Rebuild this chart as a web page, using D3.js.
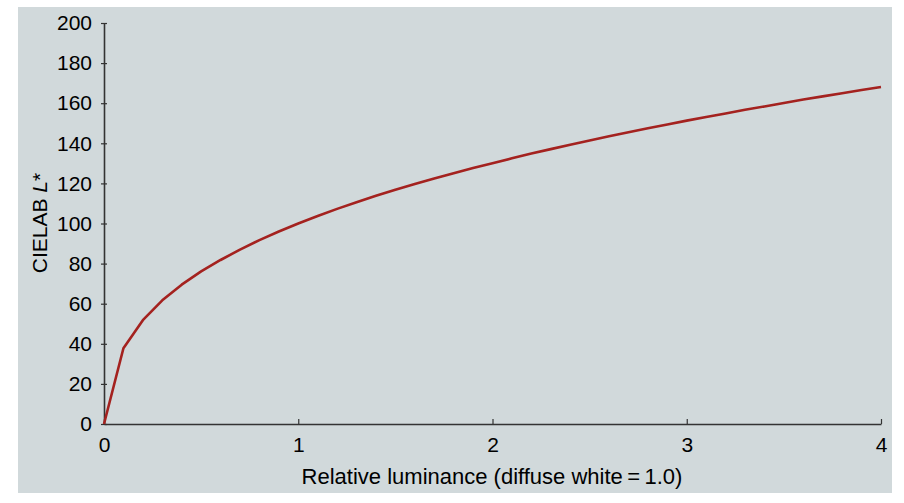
<!DOCTYPE html>
<html>
<head>
  <meta charset="UTF-8">
  <title>CIELAB L* vs relative luminance</title>
  <style>
    body { margin: 0; background: #ffffff; }
    svg { display: block; font-family: "Liberation Sans", Arial, sans-serif; }
  </style>
</head>
<body>
<svg></svg>
<script src="https://d3js.org/d3.v7.min.js"></script>
<script>

let width = 904, height = 503;

// values
let luminance = [0, 0.1, 0.2, 0.3, 0.4, 0.5, 0.6, 0.7, 0.8, 0.9,
                 1.0, 1.1, 1.2, 1.3, 1.4, 1.5, 1.6, 1.7, 1.8, 1.9,
                 2.0, 2.1, 2.2, 2.3, 2.4, 2.5, 2.6, 2.7, 2.8, 2.9,
                 3.0, 3.1, 3.2, 3.3, 3.4, 3.5, 3.6, 3.7, 3.8, 3.9, 4.0];
let lstar = [0, 37.8, 51.8, 61.7, 69.5, 76.1, 81.8, 87.0, 91.7, 96.0,
             100, 103.7, 107.3, 110.6, 113.8, 116.8, 119.7, 122.4, 125.1, 127.7,
             130.1, 132.5, 134.9, 137.1, 139.3, 141.4, 143.5, 145.5, 147.5, 149.4,
             151.3, 153.1, 154.9, 156.7, 158.4, 160.1, 161.8, 163.4, 165.0, 166.6, 168.1];
let xTicks = [0, 1, 2, 3, 4];
let yTicks = [0, 20, 40, 60, 80, 100, 120, 140, 160, 180, 200];

let svg = d3.select("svg")
    .attr("width", width)
    .attr("height", height);

// grey panel
svg.append("rect")
    .attr("x", 18).attr("y", 7)
    .attr("width", 874).attr("height", 486)
    .attr("fill", "#d1d9db");

var x = d3.scaleLinear().domain([0, 4]).range([104, 881]);
var y = d3.scaleLinear().domain([0, 200]).range([424, 23]);

// x axis, ticks pointing up
var xAxis = svg.append("g")
    .attr("transform", "translate(0," + y(0) + ")")
    .call(d3.axisBottom(x).tickValues(xTicks).tickFormat(d3.format("d"))
          .tickSize(-5).tickSizeOuter(0).tickPadding(13));

// y axis, ticks crossing
var yAxis = svg.append("g")
    .attr("transform", "translate(" + x(0) + ",0)")
    .call(d3.axisLeft(y).tickValues(yTicks).tickFormat(d3.format("d"))
          .tickSize(3).tickSizeOuter(0).tickPadding(9));

yAxis.selectAll(".tick line").attr("x2", 3).attr("x1", -3);

[xAxis, yAxis].forEach(g => {
  g.attr("font-size", null).attr("font-family", null);
  g.select(".domain").attr("stroke", "#333").attr("stroke-width", 1.6);
  g.selectAll(".tick line").attr("stroke", "#333").attr("stroke-width", 1.2);
  g.selectAll(".tick text").attr("fill", "#000").style("font-size", "21px");
});

// curve
var line = d3.line()
    .x((d, i) => x(luminance[i]))
    .y(d => y(d));

svg.append("path")
    .datum(lstar)
    .attr("d", line)
    .attr("fill", "none")
    .attr("stroke", "#a4221f")
    .attr("stroke-width", 2.6)
    .attr("stroke-linejoin", "round");

// axis titles
svg.append("text")
    .attr("x", 492).attr("y", 484)
    .attr("text-anchor", "middle")
    .style("font-size", "22px")
    .attr("fill", "#000")
    .text("Relative luminance (diffuse white\u2009=\u20091.0)");

var yl = svg.append("text")
    .attr("transform", "translate(47,223) rotate(-90)")
    .attr("text-anchor", "middle")
    .style("font-size", "21px")
    .attr("fill", "#000");
yl.append("tspan").text("CIELAB ");
yl.append("tspan").style("font-style", "italic").text("L");
yl.append("tspan").text("*");

</script>
</body>
</html>
